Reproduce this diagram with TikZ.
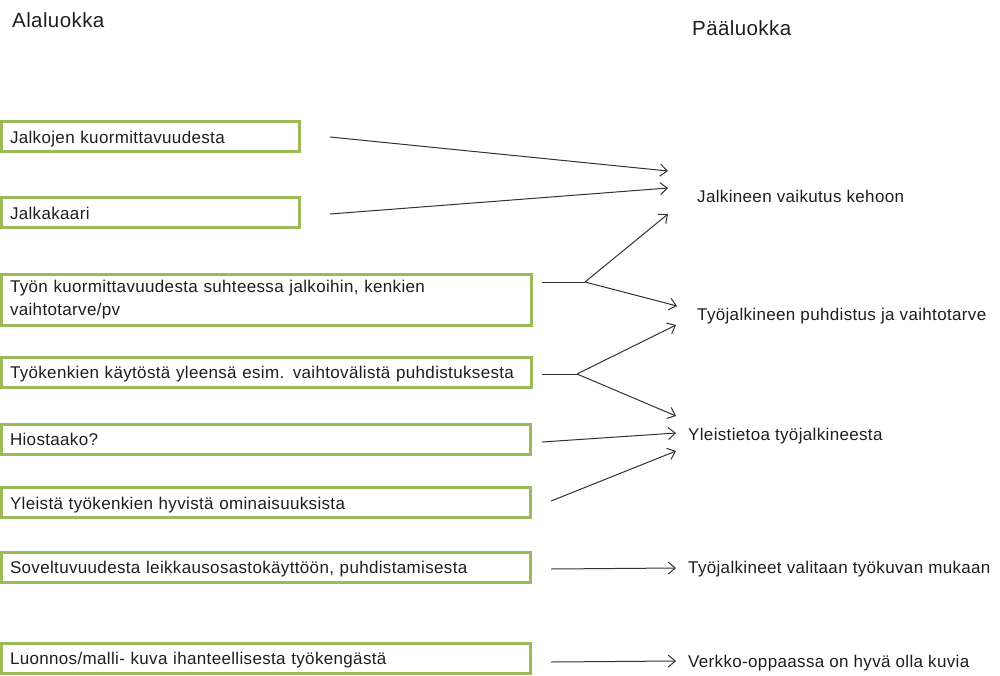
\documentclass[tikz,border=0pt]{standalone}
\usepackage{fontspec}
\setmainfont{Liberation Sans}[LetterSpace=2]
\usetikzlibrary{arrows.meta}

\tikzset{
  luokka/.style={draw=boxgreen, line width=3pt, fill=white, anchor=west,
    align=left, inner xsep=8.5pt, inner ysep=0pt, minimum height=30pt,
    text height=13.6pt, text depth=0pt,
    text=teksti, font=\fontsize{17}{23}\selectfont},
  otsikko/.style={anchor=base west, inner sep=0pt, text=teksti,
    font=\fontsize{20.5}{24}\selectfont},
  paaluokka/.style={anchor=base west, inner sep=0pt, text=teksti,
    font=\fontsize{17}{19}\selectfont},
  viiva/.style={draw=viivat, line width=1pt},
  nuoli/.style={viiva, -{Straight Barb[length=7pt,width=12pt]}}
}

\begin{document}
\begin{tikzpicture}[x=1pt, y=-1pt]
  % Définir les couleurs du schéma
  \definecolor{boxgreen}{RGB}{155,187,89}
  \definecolor{teksti}{RGB}{30,30,30}
  \definecolor{viivat}{RGB}{50,50,50}

  \useasboundingbox (0,0) rectangle (1000,675);

  % Les titres des colonnes
  \node[otsikko] (ala) at (12,27) {Alaluokka};
  \node[otsikko] (paa) at (692,35) {Pääluokka};

  % Les sous-classes (cadres verts)
  \node[luokka, text width=281pt] (b1) at (0,136.5) {Jalkojen kuormittavuudesta};
  \node[luokka, text width=281pt] (b2) at (0,212.5) {Jalkakaari};
  \node[luokka, text width=513pt, minimum height=51pt, text height=, text depth=]
    (b3) at (0,300)
    {Työn kuormittavuudesta suhteessa jalkoihin, kenkien\\vaihtotarve/pv};
  \node[luokka, text width=513pt] (b4) at (0,372)
    {Työkenkien käytöstä yleensä esim. vaihtovälistä puhdistuksesta};
  \node[luokka, text width=512pt] (b5) at (0,439) {Hiostaako?};
  \node[luokka, text width=512pt] (b6) at (0,502.5)
    {Yleistä työkenkien hyvistä ominaisuuksista};
  \node[luokka, text width=512pt] (b7) at (0,567)
    {Soveltuvuudesta leikkausosastokäyttöön, puhdistamisesta};
  \node[luokka, text width=512pt] (b8) at (0,658)
    {Luonnos/malli- kuva ihanteellisesta työkengästä};

  % Les classes principales
  \node[paaluokka] (vaik) at (697,202) {Jalkineen vaikutus kehoon};
  \node[paaluokka] (puhd) at (697,320) {Työjalkineen puhdistus ja vaihtotarve};
  \node[paaluokka] (yleis) at (688,440) {Yleistietoa työjalkineesta};
  \node[paaluokka] (valit) at (688,573) {Työjalkineet valitaan työkuvan mukaan};
  \node[paaluokka] (verkko) at (688,667) {Verkko-oppaassa on hyvä olla kuvia};

  % Points de branchement et pointes des flèches
  \coordinate (h3) at (585,282);
  \coordinate (h4) at (577,374);
  \coordinate (k1) at (668,171);
  \coordinate (k2) at (668,188);
  \coordinate (k3) at (668,214);
  \coordinate (p1) at (677,306);
  \coordinate (p2) at (676,325);
  \coordinate (y1) at (676,416);
  \coordinate (y2) at (676,433);
  \coordinate (y3) at (676,451);

  % Dessiner les flèches
  \draw[nuoli] ([xshift=29pt,yshift=-0.5pt]b1.east) -- (k1);
  \draw[nuoli] ([xshift=29pt,yshift=-1.5pt]b2.east) -- (k2);

  \draw[viiva] ([xshift=9pt,yshift=18pt]b3.east) -- (h3);
  \draw[nuoli] (h3) -- (k3);
  \draw[nuoli] (h3) -- (p1);

  \draw[viiva] ([xshift=9pt,yshift=-2pt]b4.east) -- (h4);
  \draw[nuoli] (h4) -- (p2);
  \draw[nuoli] (h4) -- (y1);

  \draw[nuoli] ([xshift=10pt,yshift=-3pt]b5.east) -- (y2);
  \draw[nuoli] ([xshift=19pt,yshift=1.5pt]b6.east) -- (y3);

  \draw[nuoli] ([xshift=19pt,yshift=-2pt]b7.east) -- ([xshift=-12pt,yshift=5pt]valit.base west);
  \draw[nuoli] ([xshift=19pt,yshift=-4pt]b8.east) -- ([xshift=-12pt,yshift=6pt]verkko.base west);
\end{tikzpicture}
\end{document}
